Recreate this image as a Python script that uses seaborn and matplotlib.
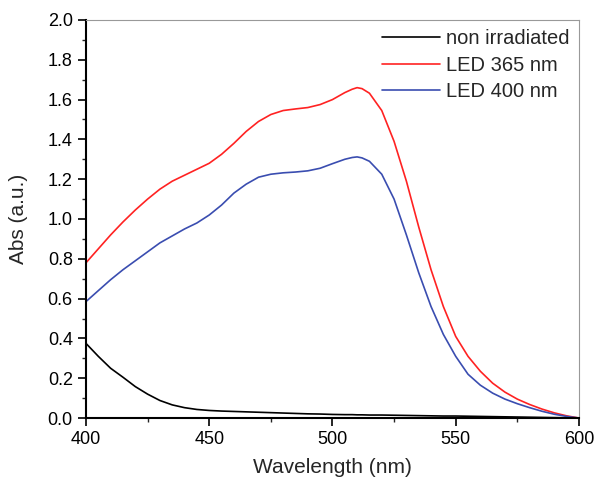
import matplotlib
matplotlib.use("Agg")
import matplotlib.pyplot as plt
from matplotlib.ticker import MultipleLocator, FormatStrFormatter
import seaborn as sns
import pandas as pd

# длины волн (нм)
wavelength = [400, 405, 410, 415, 420, 425, 430, 435, 440, 445, 450, 455, 460, 465,
              470, 475, 480, 485, 490, 495, 500, 505, 508, 510, 512, 515, 520, 525,
              530, 535, 540, 545, 550, 555, 560, 565, 570, 575, 580, 585, 590, 595, 600]

abs_dark = [0.375, 0.31, 0.25, 0.205, 0.158, 0.12, 0.088, 0.066, 0.052, 0.043, 0.038,
            0.035, 0.033, 0.031, 0.029, 0.027, 0.025, 0.023, 0.021, 0.020, 0.018, 0.017,
            0.017, 0.016, 0.016, 0.015, 0.015, 0.014, 0.013, 0.012, 0.011, 0.010, 0.010,
            0.009, 0.008, 0.007, 0.006, 0.005, 0.004, 0.003, 0.002, 0.001, 0.0]

abs_365 = [0.78, 0.85, 0.92, 0.985, 1.045, 1.10, 1.15, 1.19, 1.22, 1.25, 1.28, 1.325,
           1.38, 1.44, 1.49, 1.525, 1.545, 1.553, 1.56, 1.575, 1.60, 1.635, 1.652, 1.66,
           1.655, 1.632, 1.545, 1.39, 1.19, 0.96, 0.745, 0.56, 0.41, 0.31, 0.235, 0.175,
           0.13, 0.095, 0.068, 0.045, 0.026, 0.011, 0.0]

abs_400 = [0.585, 0.64, 0.695, 0.745, 0.79, 0.835, 0.88, 0.915, 0.95, 0.98, 1.02, 1.07,
           1.13, 1.175, 1.21, 1.225, 1.232, 1.236, 1.242, 1.255, 1.278, 1.30, 1.309, 1.312,
           1.307, 1.29, 1.225, 1.10, 0.92, 0.73, 0.56, 0.42, 0.31, 0.22, 0.165, 0.125,
           0.095, 0.072, 0.052, 0.034, 0.019, 0.008, 0.0]

labels = ["non irradiated", "LED 365 nm", "LED 400 nm"]
colors = ["#000000", "#FF2222", "#3A4DB0"]

df = pd.concat([
    pd.DataFrame({"wl": wavelength, "abs": abs_dark, "sample": labels[0]}),
    pd.DataFrame({"wl": wavelength, "abs": abs_365, "sample": labels[1]}),
    pd.DataFrame({"wl": wavelength, "abs": abs_400, "sample": labels[2]}),
])

sns.set_style("ticks")
plt.rcParams["font.family"] = ["Liberation Sans", "DejaVu Sans"]

fig = plt.figure(figsize=(5.95, 4.79), dpi=100)
ax = fig.add_axes([0.1445, 0.1273, 0.8285, 0.8310])

sns.lineplot(data=df, x="wl", y="abs", hue="sample", palette=dict(zip(labels, colors)),
             linewidth=1.2, ax=ax, sort=False)

ax.set_xlim(400, 600)
ax.set_ylim(0, 2.0)
ax.xaxis.set_major_locator(MultipleLocator(50))
ax.xaxis.set_minor_locator(MultipleLocator(25))
ax.yaxis.set_major_locator(MultipleLocator(0.2))
ax.yaxis.set_minor_locator(MultipleLocator(0.1))
ax.yaxis.set_major_formatter(FormatStrFormatter("%.1f"))

ax.tick_params(which="major", direction="out", length=6, width=1.2, labelsize=13,
               colors="black", top=False, right=False)
ax.tick_params(which="minor", direction="out", length=3.2, width=1.0,
               top=False, right=False)

for side in ["left", "bottom"]:
    ax.spines[side].set_color("black")
    ax.spines[side].set_linewidth(1.5)
for side in ["top", "right"]:
    ax.spines[side].set_color("#999999")
    ax.spines[side].set_linewidth(0.8)

ax.set_xlabel("Wavelength (nm)", fontsize=15, labelpad=7)
ax.set_ylabel("Abs (a.u.)", fontsize=15)
ax.yaxis.set_label_coords(-0.118, 0.5)

ax.legend(loc="upper right", frameon=False, fontsize=14.5, handlelength=2.9,
          handletextpad=0.3, labelspacing=0.38, borderaxespad=0.05,
          bbox_to_anchor=(1.0, 1.0))

fig.savefig("out.png", dpi=100)
